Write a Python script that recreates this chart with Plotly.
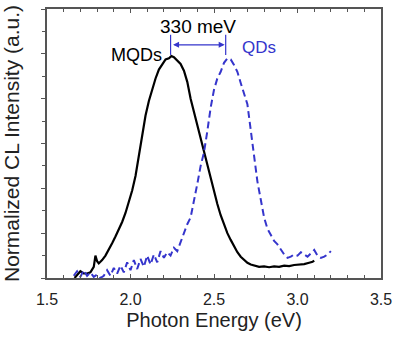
import plotly.graph_objects as go

# Cathodoluminescence spectra (normalized)
mqd_energy = [1.665, 1.68, 1.70, 1.72, 1.74, 1.76, 1.78, 1.79, 1.80, 1.81, 1.83, 1.85,
              1.87, 1.89, 1.91, 1.93, 1.95, 1.97, 1.99, 2.01, 2.03, 2.05, 2.07, 2.09,
              2.11, 2.13, 2.15, 2.17, 2.19, 2.21, 2.23, 2.245, 2.26, 2.28, 2.30, 2.32,
              2.34, 2.36, 2.38, 2.40, 2.42, 2.44, 2.46, 2.48, 2.50, 2.52, 2.54, 2.56,
              2.58, 2.60, 2.62, 2.64, 2.66, 2.68, 2.70, 2.72, 2.74, 2.77, 2.80, 2.83,
              2.86, 2.89, 2.92, 2.95, 2.98, 3.01, 3.04, 3.07, 3.09, 3.10]
mqd_intensity = [0.0, 0.015, 0.03, 0.02, 0.02, 0.025, 0.05, 0.10, 0.075, 0.065, 0.08, 0.10,
                 0.125, 0.155, 0.185, 0.215, 0.25, 0.29, 0.335, 0.39, 0.455, 0.545, 0.65, 0.725,
                 0.79, 0.845, 0.89, 0.93, 0.955, 0.975, 0.98, 0.99, 0.985, 0.97, 0.955, 0.925,
                 0.875, 0.80, 0.74, 0.68, 0.625, 0.565, 0.505, 0.45, 0.38, 0.33, 0.28, 0.235,
                 0.20, 0.17, 0.14, 0.115, 0.095, 0.08, 0.068, 0.06, 0.055, 0.05, 0.052, 0.048,
                 0.052, 0.05, 0.055, 0.053, 0.058, 0.06, 0.062, 0.068, 0.072, 0.078]

qd_energy = [1.66, 1.68, 1.70, 1.72, 1.74, 1.76, 1.78, 1.80, 1.82, 1.84, 1.86, 1.88,
             1.90, 1.92, 1.94, 1.96, 1.98, 2.00, 2.02, 2.04, 2.06, 2.08, 2.10, 2.12,
             2.14, 2.16, 2.18, 2.20, 2.22, 2.24, 2.26, 2.28, 2.30, 2.32, 2.34, 2.36,
             2.38, 2.40, 2.42, 2.44, 2.46, 2.48, 2.50, 2.52, 2.54, 2.56, 2.58, 2.60,
             2.62, 2.64, 2.66, 2.68, 2.70, 2.72, 2.74, 2.76, 2.78, 2.80, 2.82, 2.84,
             2.86, 2.88, 2.90, 2.92, 2.94, 2.96, 2.98, 3.00, 3.02, 3.04, 3.06, 3.08,
             3.10, 3.12, 3.14, 3.16, 3.18, 3.20]
qd_intensity = [0.01, 0.03, 0.005, 0.035, 0.01, 0.025, 0.005, 0.015, 0.0, 0.01, 0.035, 0.01,
                0.045, 0.02, 0.055, 0.025, 0.07, 0.035, 0.08, 0.04, 0.085, 0.05, 0.10, 0.06,
                0.105, 0.07, 0.12, 0.09, 0.115, 0.10, 0.135, 0.12, 0.16, 0.20, 0.24, 0.27,
                0.34, 0.42, 0.50, 0.56, 0.655, 0.76, 0.84, 0.89, 0.92, 0.96, 0.98, 0.975,
                0.95, 0.92, 0.87, 0.82, 0.775, 0.66, 0.54, 0.43, 0.35, 0.27, 0.22, 0.19,
                0.165, 0.15, 0.125, 0.105, 0.09, 0.095, 0.105, 0.10, 0.115, 0.105, 0.095, 0.11,
                0.125, 0.10, 0.09, 0.095, 0.105, 0.12]

mqd_peak = 2.24
qd_peak = 2.57
shift_label = "330 meV"

BLUE = "#3535cc"
FONT = "Arial, Liberation Sans, sans-serif"

fig = go.Figure()
fig.add_trace(go.Scatter(x=mqd_energy, y=mqd_intensity, mode="lines",
                         line=dict(color="black", width=2.2), showlegend=False))
fig.add_trace(go.Scatter(x=qd_energy, y=qd_intensity, mode="lines",
                         line=dict(color=BLUE, width=2, dash="7px,4px"), showlegend=False))

# peak markers and the shift arrow between them
for xp in (mqd_peak, qd_peak):
    fig.add_shape(type="line", x0=xp, x1=xp, y0=0.995, y1=1.085,
                  xref="x", yref="y", line=dict(color=BLUE, width=1.2))
fig.add_annotation(x=qd_peak, y=1.04, ax=mqd_peak, ay=1.04, xref="x", yref="y",
                   axref="x", ayref="y", text="", showarrow=True, arrowhead=2,
                   arrowside="end+start", arrowsize=1, arrowwidth=1.2, arrowcolor=BLUE,
                   standoff=1, startstandoff=1)
fig.add_annotation(x=(mqd_peak + qd_peak) / 2, y=1.12, xref="x", yref="y", text=shift_label,
                   showarrow=False, font=dict(family=FONT, size=19, color="black"))
fig.add_annotation(x=2.2, y=0.995, xref="x", yref="y", text="MQDs", showarrow=False,
                   xanchor="right", font=dict(family=FONT, size=18, color="black"))
fig.add_annotation(x=2.655, y=1.03, xref="x", yref="y", text="QDs", showarrow=False,
                   xanchor="left", font=dict(family=FONT, size=17, color=BLUE))

axis_line = "#555555"
fig.update_xaxes(range=[1.5, 3.5], dtick=0.5, tick0=1.5, tickformat=".1f",
                 showgrid=False, zeroline=False, showline=True, linecolor=axis_line,
                 linewidth=1.5, mirror="ticks", ticks="inside", ticklen=4,
                 tickcolor=axis_line, tickwidth=1,
                 minor=dict(dtick=0.1, ticks="inside", ticklen=3, tickcolor=axis_line),
                 tickfont=dict(family=FONT, size=16, color="#222"),
                 ticklabelstandoff=6,
                 title=dict(text="Photon Energy (eV)", standoff=6,
                            font=dict(family=FONT, size=20, color="#222")))
fig.update_yaxes(range=[0, 1.2], dtick=0.2, showticklabels=False,
                 showgrid=False, zeroline=False, showline=True, linecolor=axis_line,
                 linewidth=1.5, mirror=True, ticks="outside", ticklen=4,
                 tickcolor=axis_line, tickwidth=1,
                 minor=dict(dtick=0.1, ticks="outside", ticklen=3, tickcolor=axis_line),
                 title=dict(text="Normalized CL Intensity (a.u.)", standoff=20,
                            font=dict(family=FONT, size=21, color="#222")))

fig.update_layout(width=399, height=339, margin=dict(l=47, r=13, t=7, b=61),
                  plot_bgcolor="white", paper_bgcolor="white")

fig.write_html("out.html")
